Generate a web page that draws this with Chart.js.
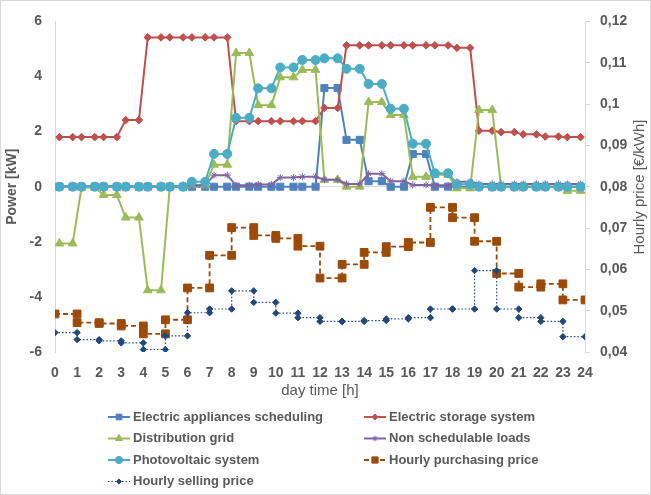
<!DOCTYPE html>
<html>
<head>
<meta charset="utf-8">
<script src="https://cdn.jsdelivr.net/npm/chart.js"></script>
<style>
  html, body { margin: 0; padding: 0; background: #fff; }
  #wrap { width: 651px; height: 495px; }
</style>
</head>
<body>
<div id="wrap"><canvas id="energyChart" width="651" height="495"></canvas></div>
<script>
// one value per hour (0..23)
const appliancesKW = [0, 0, 0, 0, 0, 0, 0, 0, 0, 0, 0, 0, 3.58, 1.7, 0.2, 0, 1.19, 0, 0, 0, 0, 0, 0, 0];
const storageKW = [1.8, 1.8, 1.8, 2.42, 5.42, 5.42, 5.42, 5.42, 2.38, 2.38, 2.38, 2.38, 2.86, 5.13, 5.13, 5.13, 5.13, 5.13, 5.04, 2.03, 1.98, 1.9, 1.82, 1.8];
const gridKW = [-2.06, -0.03, -0.3, -1.12, -3.76, 0, 0.05, 0.8, 4.85, 2.96, 3.97, 4.24, 0.25, 0, 3.07, 2.6, 0.36, 0.43, -0.06, 2.78, 0, 0, 0, -0.15];
const nonSchedKW = [0.02, 0.02, 0.02, 0.02, 0.02, 0.02, 0.05, 0.42, 0.05, 0.08, 0.33, 0.36, 0.25, 0.1, 0.47, 0.2, 0.06, 0.05, 0.18, 0.1, 0.1, 0.1, 0.1, 0.1];
const pvKW = [0, 0, 0, 0, 0, 0, 0.18, 1.19, 2.5, 3.57, 4.33, 4.6, 4.66, 4.28, 3.73, 2.83, 1.56, 0.49, 0.09, 0, 0, 0, 0, 0];
const purchasePrice = [0.0492, 0.0471, 0.0469, 0.0463, 0.0444, 0.0478, 0.0555, 0.0634, 0.0701, 0.0682, 0.0675, 0.0656, 0.0579, 0.0612, 0.0641, 0.0655, 0.0665, 0.0750, 0.0725, 0.0668, 0.0590, 0.0557, 0.0565, 0.0526];
const sellingPrice = [0.0447, 0.0430, 0.0427, 0.0422, 0.0406, 0.0439, 0.0495, 0.0504, 0.0548, 0.0520, 0.0494, 0.0483, 0.0474, 0.0474, 0.0476, 0.0480, 0.0483, 0.0504, 0.0504, 0.0597, 0.0504, 0.0483, 0.0474, 0.0437];

const seriesNames = ["Electric appliances scheduling", "Electric storage system", "Distribution grid", "Non schedulable loads", "Photovoltaic system", "Hourly purchasing price", "Hourly selling price"];

const FONT = "'Liberation Sans', Arial, sans-serif";
const GREY = "#595959";

// power values sit at two points inside each hour
function powerPoints(values) {
  const pts = [];
  values.forEach((v, h) => {
    pts.push({ x: h + 0.2, y: v });
    pts.push({ x: h + 0.8, y: v });
  });
  return pts;
}
// prices are steps over the whole hour
function pricePoints(values) {
  const pts = [];
  values.forEach((v, h) => {
    pts.push({ x: h, y: v });
    pts.push({ x: h + 1, y: v });
  });
  return pts;
}

function series(i, data, color, style, radius, extra) {
  return Object.assign({
    label: seriesNames[i],
    data: data,
    borderColor: color,
    backgroundColor: color,
    pointBackgroundColor: color,
    pointBorderColor: color,
    pointStyle: style,
    pointRadius: radius,
    pointBorderWidth: 1,
    borderWidth: 2,
    tension: 0,
    yAxisID: "y",
    order: -i
  }, extra || {});
}

const datasets = [
  series(0, powerPoints(appliancesKW), "#4F81BD", "rect", 5),
  series(1, powerPoints(storageKW), "#C0504D", "rectRot", 3.8),
  series(2, powerPoints(gridKW), "#9BBB59", "triangle", 5),
  series(3, powerPoints(nonSchedKW), "#8064A2", "star", 3.5),
  series(4, powerPoints(pvKW), "#4BACC6", "circle", 4.5),
  series(5, pricePoints(purchasePrice), "#9C4A09", "rect", 5.5, { borderDash: [5, 3], borderWidth: 1.8, yAxisID: "y1" }),
  series(6, pricePoints(sellingPrice), "#1F497D", "rectRot", 3.2, { borderDash: [1.5, 2], borderWidth: 1.2, yAxisID: "y1" })
];

const chartDecor = {
  id: "chartDecor",
  beforeDraw(chart) {
    const ctx = chart.ctx;
    ctx.save();
    ctx.fillStyle = "#fff";
    ctx.fillRect(0, 0, chart.width, chart.height);
    ctx.strokeStyle = "#d9d9d9";
    ctx.lineWidth = 1;
    ctx.strokeRect(0.5, 0.5, chart.width - 1, chart.height - 1);
    ctx.restore();
  },
  afterDraw(chart) {
    const ctx = chart.ctx;
    ctx.save();
    // right axis title, reads bottom to top
    ctx.fillStyle = GREY;
    ctx.font = "15px " + FONT;
    ctx.textAlign = "center";
    ctx.textBaseline = "middle";
    ctx.translate(640, 187);
    ctx.rotate(-Math.PI / 2);
    ctx.fillText("Hourly price [€/kWh]", 0, 0);
    ctx.restore();

    // legend in two columns
    ctx.save();
    ctx.font = "bold 13px " + FONT;
    ctx.textBaseline = "middle";
    ctx.textAlign = "left";
    chart.data.datasets.forEach((ds, i) => {
      const col = i % 2, row = Math.floor(i / 2);
      const x0 = col === 0 ? 108 : 364;
      const y = 417 + row * 21.5;
      ctx.strokeStyle = ds.borderColor;
      ctx.lineWidth = ds.borderWidth;
      ctx.setLineDash(ds.borderDash || []);
      ctx.beginPath();
      ctx.moveTo(x0, y);
      ctx.lineTo(x0 + 22, y);
      ctx.stroke();
      ctx.setLineDash([]);
      ctx.fillStyle = ds.pointBackgroundColor;
      ctx.strokeStyle = ds.pointBorderColor;
      ctx.lineWidth = 1;
      Chart.helpers.drawPoint(ctx, { pointStyle: ds.pointStyle, radius: ds.pointRadius * 0.8, rotation: 0, borderWidth: 1 }, x0 + 11, y);
      ctx.fillStyle = GREY;
      ctx.fillText(ds.label, x0 + 25, y);
    });
    ctx.restore();
  }
};

new Chart(document.getElementById("energyChart").getContext("2d"), {
  type: "line",
  data: { datasets: datasets },
  options: {
    responsive: false,
    animation: false,
    layout: { padding: { top: 19, bottom: 91, left: 0, right: 0 } },
    plugins: {
      legend: { display: false },
      tooltip: { enabled: false }
    },
    scales: {
      x: {
        type: "linear",
        min: 0,
        max: 24,
        afterFit(scale) { scale.height = 52; },
        grid: { display: false },
        border: { display: false },
        ticks: { stepSize: 1, color: GREY, font: { family: FONT, size: 14, weight: "bold" }, padding: 5, maxRotation: 0, autoSkip: false },
        title: { display: true, text: "day time [h]", color: GREY, font: { family: FONT, size: 15 } }
      },
      y: {
        position: "left",
        min: -6,
        max: 6,
        afterFit(scale) { scale.width = 55; },
        grid: {
          drawTicks: false,
          color: (c) => (c.tick && c.tick.value === 0 ? "#d9d9d9" : "transparent")
        },
        border: { display: true, color: "#d9d9d9" },
        ticks: { stepSize: 2, color: GREY, font: { family: FONT, size: 14, weight: "bold" }, padding: 13 },
        title: { display: true, text: "Power [kW]", color: GREY, font: { family: FONT, size: 14, weight: "bold" } }
      },
      y1: {
        position: "right",
        min: 0.04,
        max: 0.12,
        afterFit(scale) { scale.width = 66; },
        grid: { drawOnChartArea: false, drawTicks: true, tickLength: 5, tickColor: "#d9d9d9" },
        border: { display: true, color: "#d9d9d9" },
        ticks: {
          stepSize: 0.01,
          color: GREY,
          font: { family: FONT, size: 14, weight: "bold" },
          padding: 10,
          callback: (v) => String(Math.round(v * 100) / 100).replace(".", ",")
        }
      }
    }
  },
  plugins: [chartDecor]
});
</script>
</body>
</html>
